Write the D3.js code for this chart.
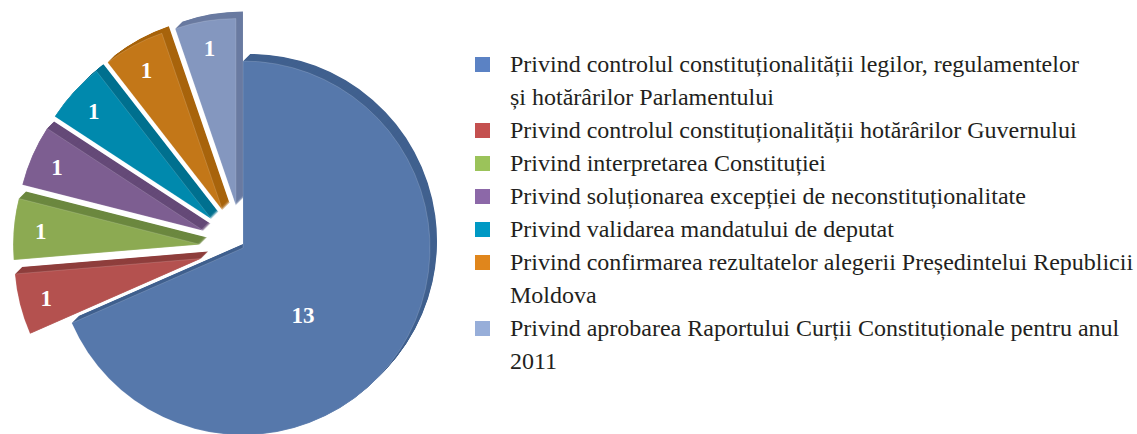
<!DOCTYPE html>
<meta charset="utf-8">
<script src="https://d3js.org/d3.v7.min.js"></script>
<style>
body { margin: 0; background: #fff; }
</style>
<div id="main"></div>
<script>

// data
const categories = [
  "Privind controlul constituționalității legilor, regulamentelor\nși hotărârilor Parlamentului",
  "Privind controlul constituționalității hotărârilor Guvernului",
  "Privind interpretarea Constituției",
  "Privind soluționarea excepției de neconstituționalitate",
  "Privind validarea mandatului de deputat",
  "Privind confirmarea rezultatelor alegerii Președintelui Republicii\nMoldova",
  "Privind aprobarea Raportului Curții Constituționale pentru anul\n2011"
];
const values = [13, 1, 1, 1, 1, 1, 1];

const faceColors = ["#5678ab", "#b4514f", "#8caa52", "#7d5e91", "#0089ad", "#c37718", "#8497bf"];
const sideColors = ["#41618f", "#8f3f3d", "#6c883f", "#654a78", "#00708f", "#a8640c", "#6a7ba1"];
const legendColors = ["#5b82c4", "#c4504f", "#9bc35a", "#8c68a8", "#0099c4", "#e0861c", "#97aed9"];

const width = 1137, height = 434;
const cx = 243, cy = 248, radius = 187;
const explode = 43;          // offset of the small slices
const depth = [7, -7];       // 3d extrusion direction

let svg = d3.select("#main").append("svg")
    .attr("width", width)
    .attr("height", height);

let pie = d3.pie().sort(null).startAngle(0).endAngle(2 * Math.PI);
let arcs = pie(values);

let arc = d3.arc().innerRadius(0).outerRadius(radius);

function mid(d) { return (d.startAngle + d.endAngle) / 2; }
function offset(d, i) {
  let r = i === 0 ? 0 : explode, a = mid(d);
  return [r * Math.sin(a), -r * Math.cos(a)];
}

let chart = svg.append("g")
    .attr("transform", "translate(" + cx + "," + cy + ")");

let slices = chart.selectAll("g.slice")
    .data(arcs)
  .enter().append("g")
    .attr("class", "slice")
    .attr("transform", function(d, i) { let o = offset(d, i); return "translate(" + o[0] + "," + o[1] + ")"; });

// side of the slice: stacked copies shifted along the depth direction
let steps = d3.range(14, 0, -1).map(function(k) { return k / 14; });
slices.each(function(d, i) {
  let g = d3.select(this);
  steps.forEach(function(t) {
    g.append("path")
        .attr("d", arc(d))
        .attr("transform", "translate(" + (depth[0] * t) + "," + (depth[1] * t) + ")")
        .attr("fill", sideColors[i]);
  });
});

slices.append("path")
    .attr("d", arc)
    .attr("fill", function(d, i) { return faceColors[i]; })
    .attr("stroke", "rgba(255,255,255,0.25)")
    .attr("stroke-width", 0.6);

// labels
slices.append("text")
    .attr("transform", function(d, i) {
      let a = mid(d), r = 160;
      if (i === 0) { a += 15 * Math.PI / 180; r = 90; }
      return "translate(" + (r * Math.sin(a)) + "," + (-r * Math.cos(a)) + ")";
    })
    .attr("dy", "0.35em")
    .attr("text-anchor", "middle")
    .attr("font-family", "'Liberation Serif', 'Times New Roman', serif")
    .attr("font-weight", "bold")
    .attr("font-size", 23)
    .attr("fill", "#fff")
    .text(function(d) { return d.value; });

// legend
let lineH = 33, legendTop = 57;
let legend = svg.append("g")
    .attr("transform", "translate(475," + legendTop + ")")
    .attr("font-family", "'Liberation Serif', 'Times New Roman', serif")
    .attr("font-size", 24)
    .attr("fill", "#231f20");

let row = 0;
categories.forEach(function(c, i) {
  let lines = c.split("\n");
  let g = legend.append("g").attr("transform", "translate(0," + (row * lineH) + ")");
  g.append("rect")
      .attr("width", 15)
      .attr("height", 15)
      .attr("fill", legendColors[i]);
  lines.forEach(function(l, j) {
    g.append("text")
        .attr("x", 35)
        .attr("y", 15 + j * lineH)
        .text(l);
  });
  row += lines.length;
});

</script>
